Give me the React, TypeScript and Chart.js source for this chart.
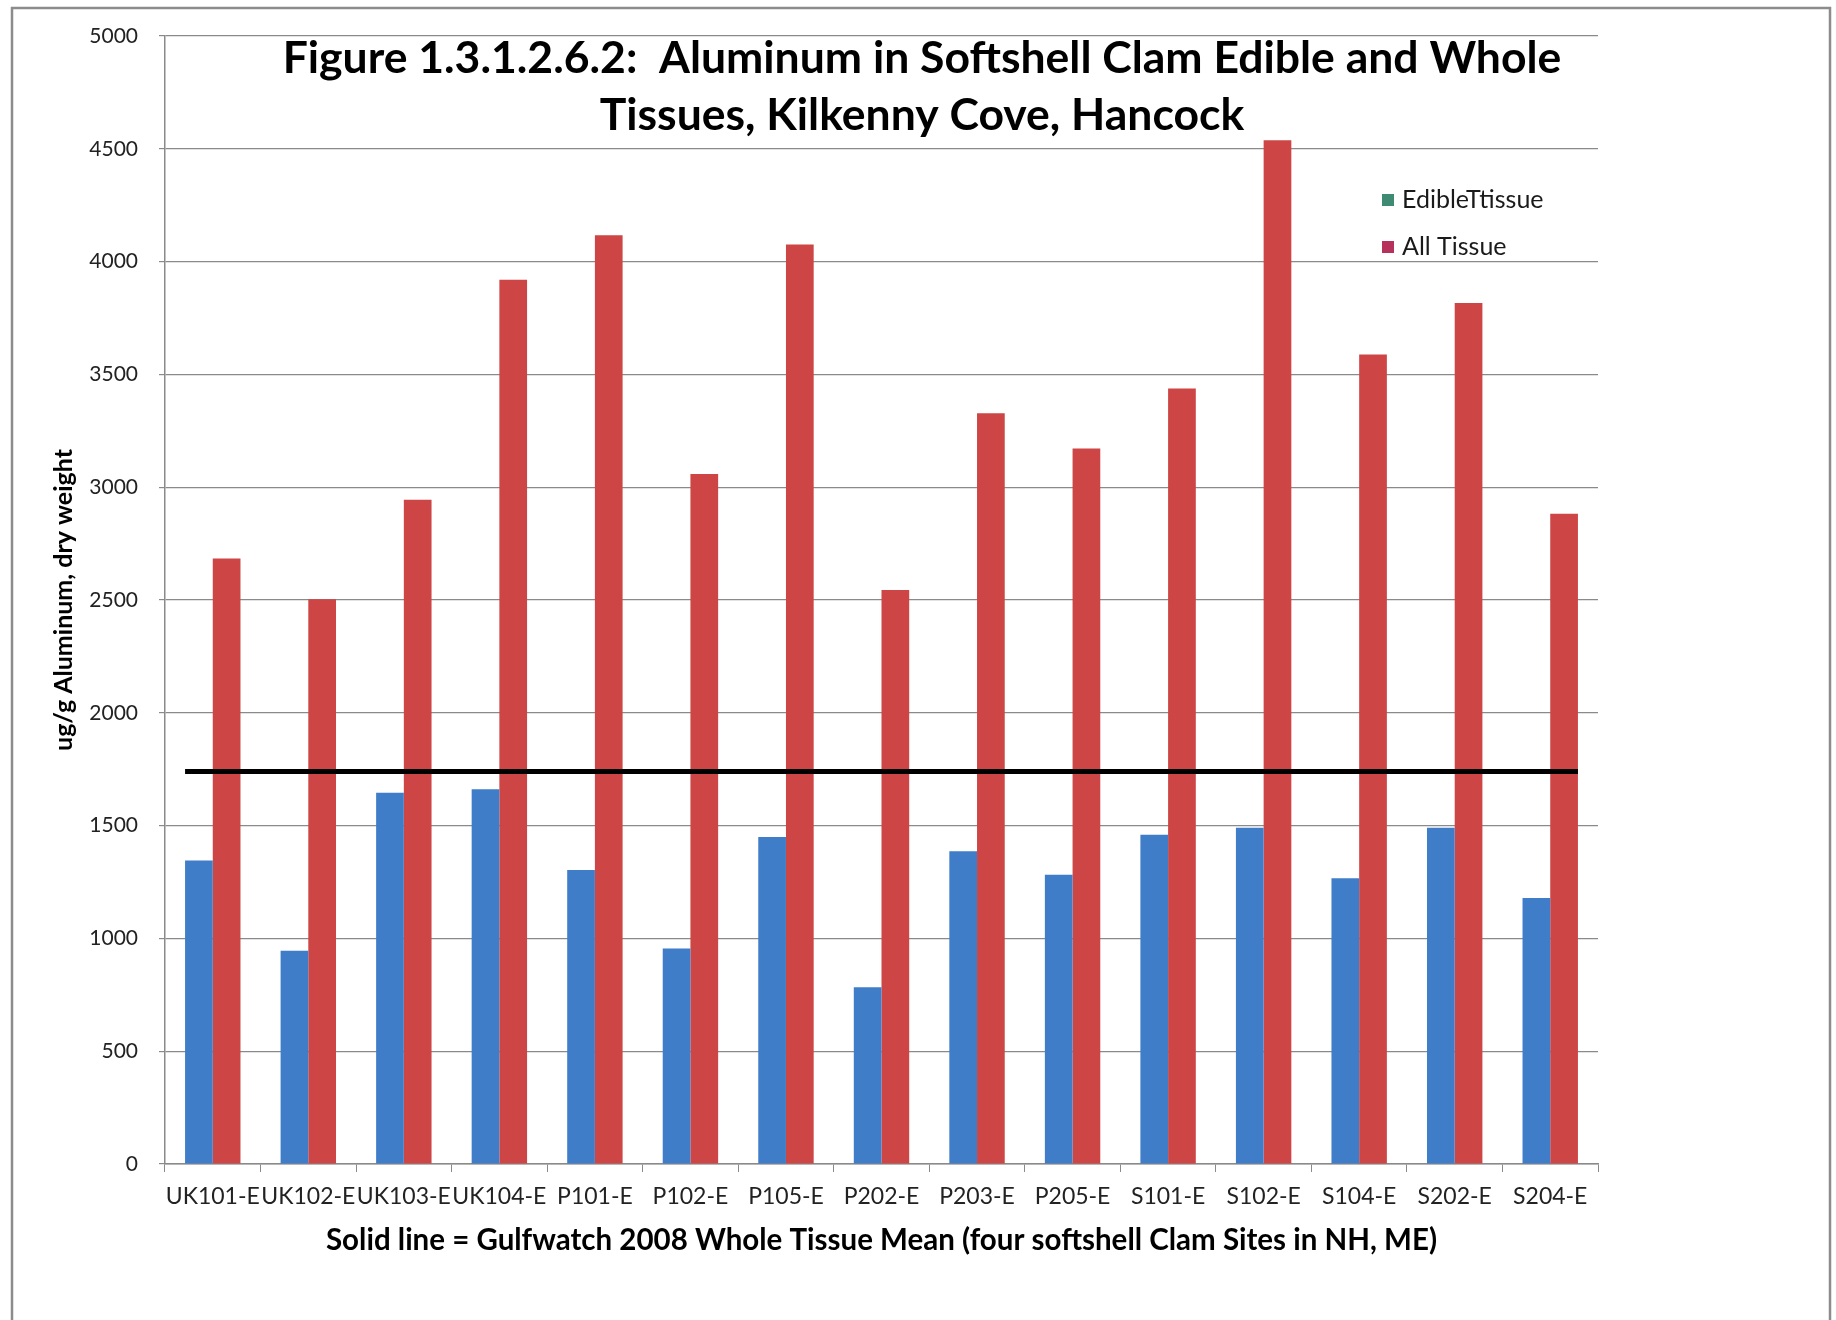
import React, { useEffect, useRef } from "react";
import { Chart, registerables } from "chart.js";

Chart.register(...registerables);

const categories = [
  "UK101-E", "UK102-E", "UK103-E", "UK104-E", "P101-E", "P102-E", "P105-E", "P202-E",
  "P203-E", "P205-E", "S101-E", "S102-E", "S104-E", "S202-E", "S204-E",
];
const edibleTissue = [1345, 945, 1646, 1661, 1303, 955, 1449, 784, 1386, 1282, 1459, 1490, 1267, 1490, 1179];
const allTissue = [2684, 2503, 2944, 3920, 4117, 3058, 4076, 2544, 3328, 3172, 3437, 4538, 3588, 3816, 2882];
const gulfwatchMean = 1740;
const yMin = 0;
const yMax = 5000;
const yStep = 500;

const titleLines = [
  "Figure 1.3.1.2.6.2:  Aluminum in Softshell Clam Edible and Whole",
  "Tissues, Kilkenny Cove, Hancock",
];
const yTitle = "ug/g Aluminum, dry weight";
const xTitle = "Solid line = Gulfwatch 2008 Whole Tissue Mean (four softshell Clam Sites in NH, ME)";
const legendLabels = ["EdibleTtissue", "All Tissue"];
const legendSwatches = ["#3f8a72", "#b6325c"];

const BLUE = "#3f7dc9";
const RED = "#cd4545";
const FONT = "Lato, 'Open Sans', sans-serif";

const decorPlugin = {
  id: "decor",
  beforeDraw(chart: any) {
    const ctx = chart.ctx;
    ctx.save();
    ctx.fillStyle = "#ffffff";
    ctx.fillRect(0, 0, chart.width, chart.height);
    ctx.strokeStyle = "#8c8c8c";
    ctx.lineWidth = 2.5;
    ctx.strokeRect(12, 8, 1818, 1330);
    ctx.restore();
  },
  afterDatasetsDraw(chart: any) {
    const ctx = chart.ctx;
    const y = chart.scales.y.getPixelForValue(gulfwatchMean);
    const m0 = chart.getDatasetMeta(0).data;
    const m1 = chart.getDatasetMeta(1).data;
    const first = m0[0];
    const last = m1[m1.length - 1];
    const x0 = first.x - first.width / 2;
    const x1 = last.x + last.width / 2;
    ctx.save();
    ctx.strokeStyle = "#000000";
    ctx.lineWidth = 5;
    ctx.beginPath();
    ctx.moveTo(x0, y);
    ctx.lineTo(x1, y);
    ctx.stroke();
    ctx.restore();
  },
  afterDraw(chart: any) {
    const ctx = chart.ctx;
    const area = chart.chartArea;
    ctx.save();
    // Title
    ctx.fillStyle = "#000000";
    ctx.textAlign = "center";
    ctx.textBaseline = "middle";
    ctx.font = `bold 44.5px ${FONT}`;
    ctx.fillText(titleLines[0], 922, 59);
    ctx.fillText(titleLines[1], 922, 116);
    // Y title
    ctx.save();
    ctx.translate(64, (area.top + area.bottom) / 2);
    ctx.rotate(-Math.PI / 2);
    ctx.font = `bold 25px ${FONT}`;
    ctx.fillText(yTitle, 0, 0);
    ctx.restore();
    // X title
    ctx.font = `bold 29.5px ${FONT}`;
    ctx.fillText(xTitle, (area.left + area.right) / 2, 1240);
    // Legend
    ctx.textAlign = "left";
    ctx.font = `25px ${FONT}`;
    const rows = [200, 247];
    legendLabels.forEach((lab, i) => {
      ctx.fillStyle = legendSwatches[i];
      ctx.fillRect(1382, rows[i] - 6, 12, 12);
      ctx.fillStyle = "#1a1a1a";
      ctx.fillText(lab, 1402, rows[i]);
    });
    ctx.restore();
  },
};

export default function App() {
  const ref = useRef<HTMLCanvasElement | null>(null);
  useEffect(() => {
    document.body.style.margin = "0";
    if (!ref.current) return;
    const chart = new Chart(ref.current, {
      type: "bar",
      data: {
        labels: categories,
        datasets: [
          { label: legendLabels[0], data: edibleTissue, backgroundColor: BLUE, categoryPercentage: 0.58, barPercentage: 1 },
          { label: legendLabels[1], data: allTissue, backgroundColor: RED, categoryPercentage: 0.58, barPercentage: 1 },
        ],
      },
      options: {
        responsive: false,
        animation: false,
        devicePixelRatio: 1,
        layout: { padding: { left: 0, right: 238, top: 36, bottom: 0 } },
        plugins: { legend: { display: false }, title: { display: false }, tooltip: { enabled: false } },
        scales: {
          x: {
            grid: { drawOnChartArea: false, drawTicks: true, tickLength: 8, color: "#8a8a8a", offset: true },
            border: { color: "#8a8a8a", width: 1.5 },
            ticks: { font: { family: FONT, size: 23 }, color: "#222", autoSkip: false, maxRotation: 0, minRotation: 0, padding: 11 },
            afterFit: (s: any) => { s.height = 156; },
          },
          y: {
            min: yMin,
            max: yMax,
            grid: { color: "#8a8a8a", lineWidth: 1.2, tickLength: 6 },
            border: { color: "#8a8a8a", width: 1.5 },
            ticks: {
              stepSize: yStep,
              font: { family: FONT, size: 21 },
              color: "#222",
              padding: 21,
              callback: (v: any) => String(v),
            },
            afterFit: (s: any) => { s.width = 165; },
          },
        },
      },
      plugins: [decorPlugin],
    });
    return () => chart.destroy();
  }, []);
  return <canvas ref={ref} width={1836} height={1320} style={{ display: "block" }} />;
}
